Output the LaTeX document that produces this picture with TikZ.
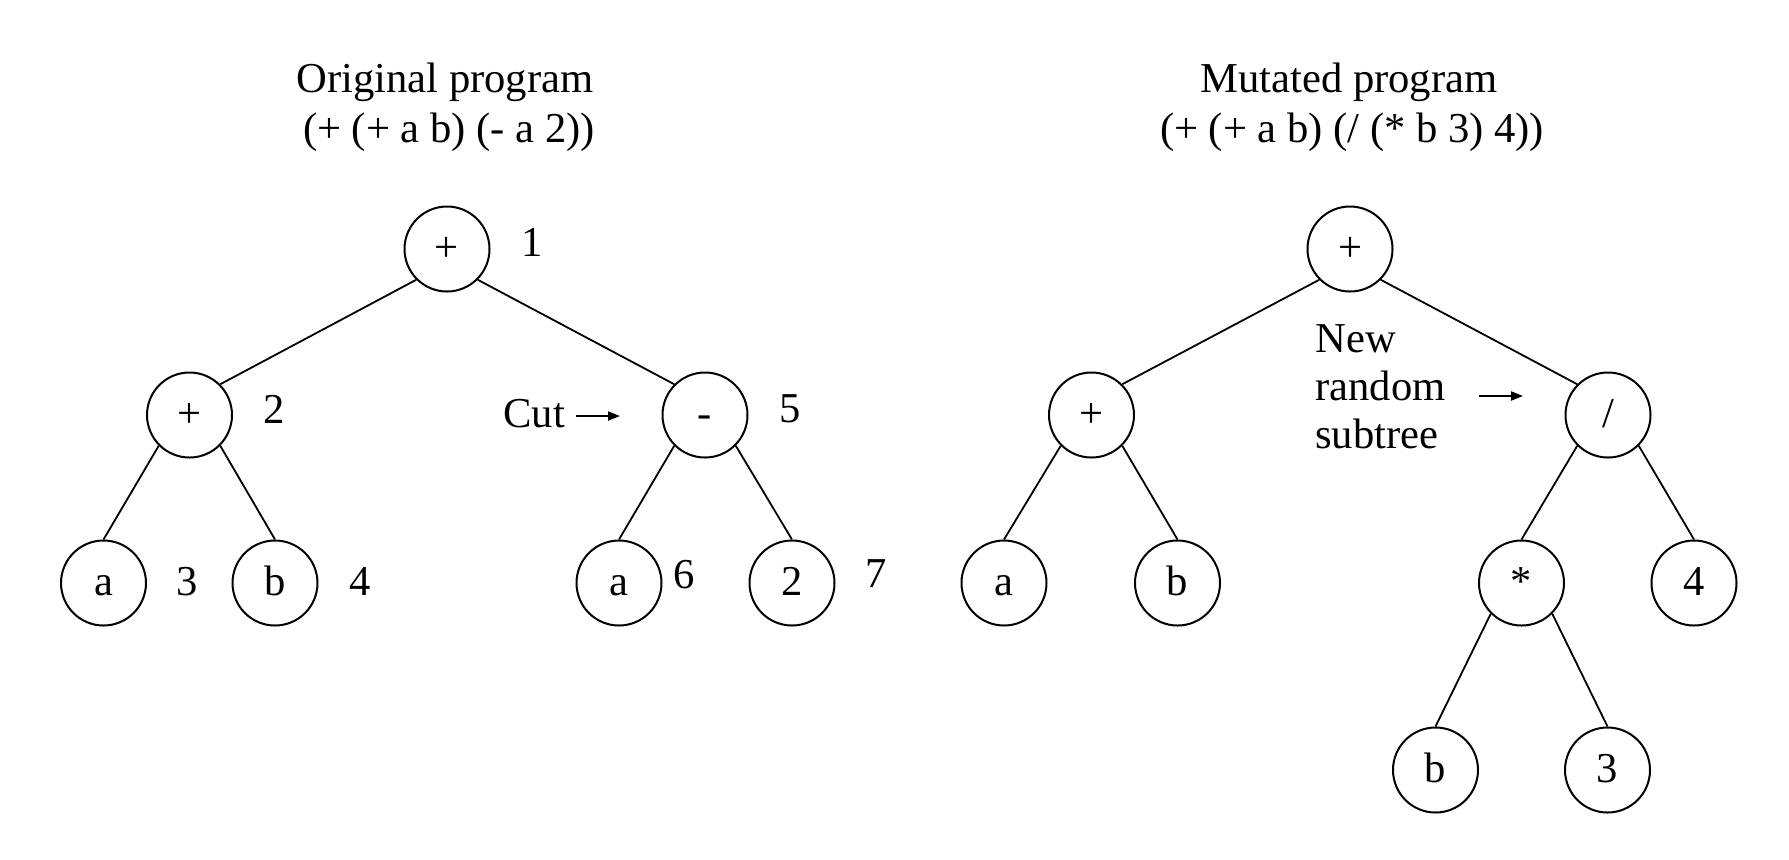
\documentclass[tikz,border=0pt]{standalone}
\usepackage{fontspec}
\setmainfont{Liberation Serif}
\usetikzlibrary{arrows.meta}
\begin{document}
\begin{tikzpicture}[x=0.5pt,y=-0.5pt,
  every node/.style={font=\fontsize{21.3}{25}\selectfont},
  tnode/.style={draw,circle,line width=1pt,minimum size=42.5pt,inner sep=0pt,text height=12pt,text depth=0pt},
  branch/.style={line width=0.9pt},
  lbl/.style={anchor=base,inner sep=0pt},
  lblw/.style={anchor=base west,inner sep=0pt},
  ptr/.style={line width=1pt,-{Triangle[length=6pt,width=4.5pt]}}
]
\useasboundingbox (0,0) rectangle (1789,859);

% titles
\node[lbl] (tl1) at (445,92) {Original program};
\node[lbl] (tl2) at (449,142) {(+ (+ a b) (- a 2))};
\node[lbl] (tr1) at (1349,92) {Mutated program};
\node[lbl] (tr2) at (1352,142) {(+ (+ a b) (/ (* b 3) 4))};

% original tree
\node[tnode] (L1) at (447,249) {+};
\node[tnode] (L2) at (189.5,415) {+};
\node[tnode] (L5) at (705,415) {-};
\node[tnode] (L3) at (103.5,583) {a};
\node[tnode] (L4) at (275,583) {b};
\node[tnode] (L6) at (619,583) {a};
\node[tnode] (L7) at (792,583) {2};

\draw[branch] (L1.south west) -- (L2.north east);
\draw[branch] (L1.south east) -- (L5.north west);
\draw[branch] (L2.south west) -- (L3.north);
\draw[branch] (L2.south east) -- (L4.north);
\draw[branch] (L5.south west) -- (L6.north);
\draw[branch] (L5.south east) -- (L7.north);

\node[lbl] (n1) at (532,256) {1};
\node[lbl] (n2) at (274,423) {2};
\node[lbl] (n5) at (790,422) {5};
\node[lbl] (n3) at (187.5,595) {3};
\node[lbl] (n4) at (360.5,595) {4};
\node[lbl] (n6) at (684,588) {6};
\node[lbl] (n7) at (876,587) {7};

\node[lblw] (cut) at (503,427) {Cut};
\coordinate (cutA) at (576,416);
\coordinate (cutB) at (620,416);
\draw[ptr] (cutA) -- (cutB);

% mutated tree
\node[tnode] (R1) at (1350,249) {+};
\node[tnode] (R2) at (1091.5,415) {+};
\node[tnode] (R5) at (1608,415) {/};
\node[tnode] (R3) at (1004,583) {a};
\node[tnode] (R4) at (1177.5,583) {b};
\node[tnode] (R6) at (1521.5,583) {*};
\node[tnode] (R7) at (1694,583) {4};
\node[tnode] (R8) at (1435.5,770) {b};
\node[tnode] (R9) at (1607.5,770) {3};

\draw[branch] (R1.south west) -- (R2.north east);
\draw[branch] (R1.south east) -- (R5.north west);
\draw[branch] (R2.south west) -- (R3.north);
\draw[branch] (R2.south east) -- (R4.north);
\draw[branch] (R5.south west) -- (R6.north);
\draw[branch] (R5.south east) -- (R7.north);
\draw[branch] (R6.south west) -- (R8.north);
\draw[branch] (R6.south east) -- (R9.north);

\node[lblw] (new1) at (1315,352) {New};
\node[lblw] (new2) at (1315,400) {random};
\node[lblw] (new3) at (1315,448) {subtree};
\coordinate (newA) at (1479,396);
\coordinate (newB) at (1523,396);
\draw[ptr] (newA) -- (newB);
\end{tikzpicture}
\end{document}
